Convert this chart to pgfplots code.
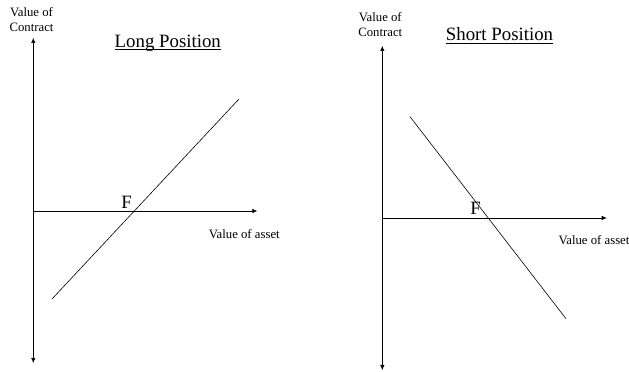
\documentclass[border=0pt]{standalone}
\usepackage{fontspec}
\setmainfont{Liberation Serif}
\usepackage{pgfplots}
\pgfplotsset{compat=1.18}
\usetikzlibrary{arrows.meta}

\pgfplotsset{
  payoff/.style={
    hide axis, clip=false, scale only axis,
    xmin=0, xmax=224, ymin=-152,
    width=224bp,
  },
}
\tikzset{
  tip/.tip={Latex[length=5bp,width=4.5bp]},
  small lbl/.style={font=\fontsize{12.8}{15}\selectfont, inner sep=0pt},
  big lbl/.style={font=\fontsize{18.9}{22}\selectfont, inner sep=0pt, anchor=base},
}

\begin{document}
\begin{tikzpicture}
\path[use as bounding box] (0,0) rectangle (629bp,372bp);

% long position
\begin{axis}[payoff, ymax=173, height=325bp, at={(33.3bp,9bp)}, anchor=south west]
\addplot[line width=0.6pt, tip-tip] coordinates {(0,-152) (0,173)};
\addplot[line width=0.6pt, -tip] coordinates {(0,0) (224,0)};
\addplot[black, line width=0.6pt] coordinates {(18.7,-88) (205.7,112)};
\node[small lbl, align=center] at (axis cs:-1.8,191.8) {Value of\\Contract};
\node[big lbl] (lt) at (axis cs:134.5,163.8) {Long Position};
\draw[line width=0.6pt] ([yshift=-2.5bp]lt.base west) -- ([yshift=-2.5bp]lt.base east);
\node[big lbl] at (axis cs:93.4,2) {F};
\node[small lbl, anchor=base] at (axis cs:211,-28) {Value of asset};
\end{axis}

% short position
\begin{axis}[payoff, ymax=172, height=324bp, at={(382.3bp,2bp)}, anchor=south west]
\addplot[line width=0.6pt, tip-tip] coordinates {(0,-152) (0,172)};
\addplot[line width=0.6pt, -tip] coordinates {(0,0) (224.4,0)};
\addplot[black, line width=0.6pt] coordinates {(27.7,101.3) (183.7,-100.7)};
\node[small lbl, align=center] at (axis cs:-2,193) {Value of\\Contract};
\node[big lbl] (st) at (axis cs:117.2,177.6) {Short Position};
\draw[line width=0.6pt] ([yshift=-2.5bp]st.base west) -- ([yshift=-2.5bp]st.base east);
\node[big lbl] at (axis cs:93.4,3.3) {F};
\node[small lbl, anchor=base] at (axis cs:211.7,-26.7) {Value of asset};
\end{axis}
\end{tikzpicture}
\end{document}
